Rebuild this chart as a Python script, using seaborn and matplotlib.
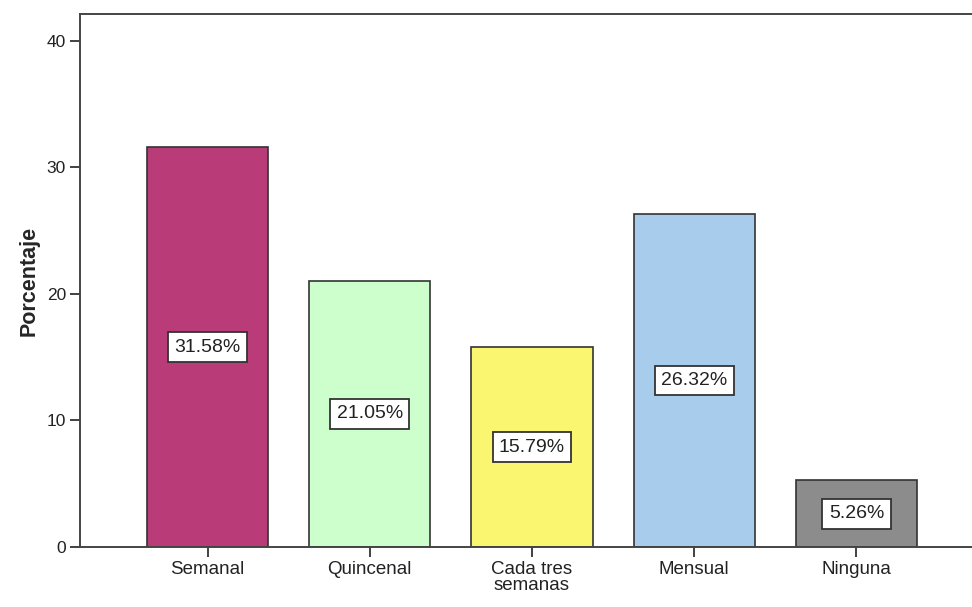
import matplotlib
matplotlib.use('Agg')
import matplotlib.pyplot as plt
import seaborn as sns
import pandas as pd

categorias = ['Semanal', 'Quincenal', 'Cada tres\nsemanas', 'Mensual', 'Ninguna']
porcentajes = [31.58, 21.05, 15.79, 26.32, 5.26]
colores = ['#b93b78', '#ccffcc', '#fbf66f', '#a8cdec', '#8c8c8c']

df = pd.DataFrame({'categoria': categorias, 'porcentaje': porcentajes})

sns.set_style('white')
plt.rcParams['font.family'] = ['Liberation Sans', 'DejaVu Sans']

fig = plt.figure(figsize=(9.72, 6.07), dpi=100)
ax = fig.add_axes([0.0823, 0.0988, 0.9177, 0.8782])

sns.barplot(data=df, x='categoria', y='porcentaje', hue='categoria',
            palette=colores, saturation=1, width=0.746, edgecolor='#333333',
            linewidth=1.2, legend=False, ax=ax)

# etiquetas en el centro de cada barra
for i, v in enumerate(porcentajes):
    ax.text(i, v / 2, f'{v:.2f}%', ha='center', va='center', fontsize=14,
            color='#222222',
            bbox=dict(facecolor='white', edgecolor='#333333', linewidth=1.3,
                      boxstyle='square,pad=0.33'))

ax.set_xlim(-0.786, 4.712)
ax.set_ylim(0, 42.13)
ax.set_yticks([0, 10, 20, 30, 40])
ax.set_xlabel('')
ax.set_ylabel('Porcentaje', fontsize=15.5, fontweight='bold', labelpad=5)
ax.tick_params(axis='both', direction='out', length=7, width=1.3,
               colors='#333333', labelcolor='#222222', pad=3)
ax.tick_params(axis='y', left=True, labelsize=12.5)
ax.tick_params(axis='x', bottom=True, labelsize=13.5)
for lbl in ax.get_xticklabels():
    lbl.set_linespacing(0.95)
for s in ['left', 'bottom', 'top']:
    ax.spines[s].set_color('#444444')
    ax.spines[s].set_linewidth(1.4)
ax.spines['right'].set_visible(False)

fig.savefig('out.png', dpi=100)
plt.close()
